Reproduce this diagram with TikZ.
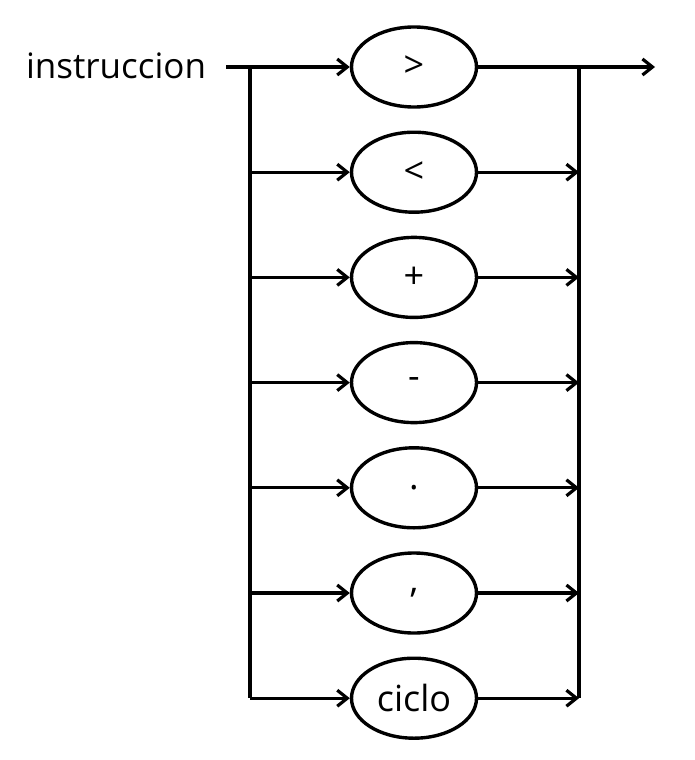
\documentclass[tikz,border=0pt]{standalone}
\usepackage{fontspec}
\setmainfont{Open Sans}
\usetikzlibrary{shapes.geometric,arrows.meta}
\begin{document}
\begin{tikzpicture}[x=1pt,y=-1pt,
  term/.style={draw,ellipse,line width=3.4pt,minimum width=125pt,minimum height=80pt,inner sep=0pt,font=\fontsize{36}{40}\selectfont},
  conn/.style={line width=3.2pt},
  rail/.style={line width=4pt},
  arr/.style={conn,-{Straight Barb[length=10pt,width=16pt,line width=3.2pt]}}]
\useasboundingbox (0,0) rectangle (695,760);
\node[anchor=center,font=\fontsize{35}{38}\selectfont] (lab) at (116,66) {instruccion};
\coordinate (start) at (226,67);
\coordinate (lt) at (250,67);
\coordinate (rt) at (579,67);
\coordinate (out) at (655,67);
\foreach \i/\t in {1/{>},2/{<},3/{+},4/{-},5/{.},6/{,},7/{ciclo}}{
  \node[term] (e\i) at (414,{67+105.2*(\i-1)}) {\t};
}
\coordinate (lb) at (250,698);
\coordinate (rb) at (579,698);
\draw[conn] (start) -- (lt);
\draw[rail] (lt) -- (lb);
\draw[rail] (rt) -- (rb);
\draw[arr] (lt) -- (e1.west);
\draw[arr] (e1.east) -- (out);
\foreach \i in {2,...,7}{
  \draw[arr] (lt |- e\i.west) -- (e\i.west);
  \draw[arr] (e\i.east) -- (rt |- e\i.east);
}
\end{tikzpicture}
\end{document}
